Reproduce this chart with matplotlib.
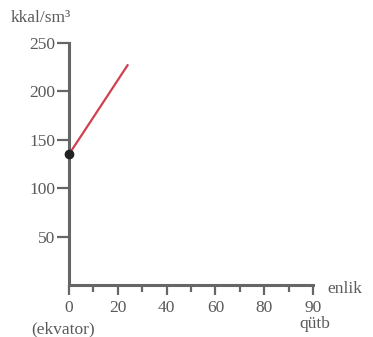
import matplotlib
matplotlib.use("Agg")
import matplotlib.pyplot as plt

# data
line_x = [0, 24]
line_y = [135, 227]
point_x = [0]
point_y = [135]
y_ticks = [50, 100, 150, 200, 250]
x_major = [0, 20, 40, 60, 80, 100]
x_major_labels = ["0", "20", "40", "60", "80", "90"]
x_minor = [10, 30, 50, 70, 90]

plt.rcParams['font.family'] = ['Liberation Serif', 'DejaVu Serif']
txt = '#5a5a5a'
axc = '#666666'
fs = 12.5

fig = plt.figure(figsize=(3.73, 3.37), dpi=100)
ax = fig.add_axes([69/373, (337-285)/337, 244/373, 242/337])
ax.set_xlim(0, 100)
ax.set_ylim(0, 250)
for s in ['top', 'right']:
    ax.spines[s].set_visible(False)
for s in ['left', 'bottom']:
    ax.spines[s].set_color(axc)
    ax.spines[s].set_linewidth(2.2)

ax.plot(line_x, line_y, color='#d0404f', lw=1.6, zorder=3, clip_on=False)
ax.plot(point_x, point_y, 'o', color='#222222', ms=6, zorder=4, clip_on=False)

ax.set_yticks(y_ticks)
ax.set_yticklabels([str(v) for v in y_ticks])
ax.set_xticks(x_major)
ax.set_xticklabels(x_major_labels)
ax.set_xticks(x_minor, minor=True)
ax.tick_params(axis='y', direction='out', length=8.5, width=1.6, color=axc,
               labelsize=fs, labelcolor=txt, pad=1.5)
ax.tick_params(axis='x', which='major', direction='out', length=7.5, width=1.6,
               color=axc, labelsize=fs, labelcolor=txt, pad=3)
ax.tick_params(axis='x', which='minor', direction='out', length=5, width=1.6,
               color=axc)

fig.text(11/373, 1-18/337, 'kkal/sm³', fontsize=fs, color=txt, va='center', ha='left')
fig.text(327/373, 1-289/337, 'enlik', fontsize=fs, color=txt, va='center', ha='left')
fig.text(63/373, 1-329/337, '(ekvator)', fontsize=fs, color=txt, va='center', ha='center')
fig.text(315/373, 1-324/337, 'qütb', fontsize=fs, color=txt, va='center', ha='center')

fig.savefig('out.png', dpi=100)
